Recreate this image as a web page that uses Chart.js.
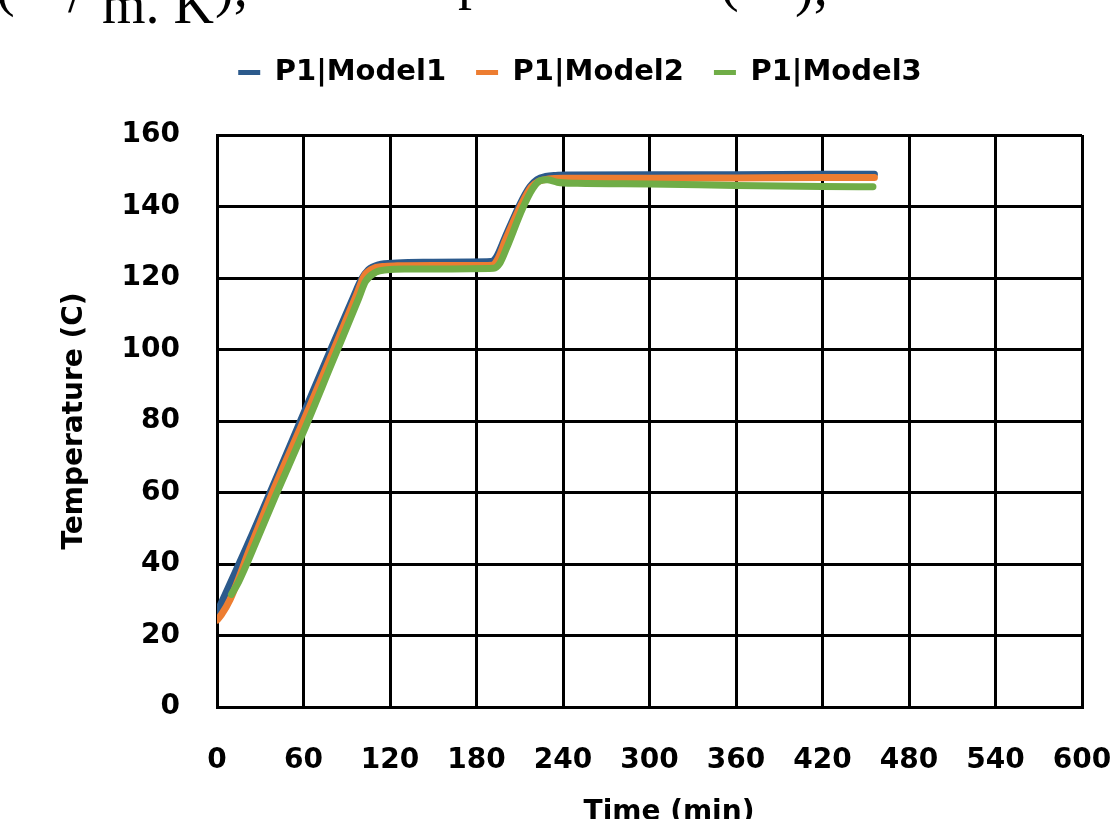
<!DOCTYPE html>
<html>
<head>
<meta charset="utf-8">
<script src="https://cdn.jsdelivr.net/npm/chart.js@4.4.1/dist/chart.umd.min.js"></script>
<style>
  html, body { margin: 0; padding: 0; background: #fff; overflow: hidden; }
  #wrap { position: relative; width: 1115px; height: 850px; }
  #c { position: absolute; left: 0; top: 0; }
  .frag { position: absolute; font-family: "Liberation Serif", "Times New Roman", serif; font-size: 56px; line-height: 56px; color: #000; white-space: pre; }
</style>
</head>
<body>
<div id="wrap">
  <canvas id="c" width="1115" height="850"></canvas>
  <span class="frag" style="left:-4px; top:-42px;">(</span>
  <span class="frag" style="left:68px; top:-35px;">/</span>
  <span class="frag" style="left:102px; top:-24px;">m. K</span>
  <span class="frag" style="left:215px; top:-41px;">),</span>
  <span class="frag" style="left:458px; top:-49px;">p</span>
  <span class="frag" style="left:720px; top:-47px;">(</span>
  <span class="frag" style="left:795px; top:-42px;">),</span>
</div>
<script>
// ---- data ----
const seriesNames = ["P1|Model1", "P1|Model2", "P1|Model3"];

const model1Time = [0, 23, 40, 60, 80, 95, 100, 105, 112, 125, 150, 175, 190, 194, 200, 210, 217, 222, 228, 235, 245, 300, 360, 420, 456];
const model1Temp = [26.4, 47, 63, 82, 101, 115, 119.5, 122.3, 123.7, 124.2, 124.4, 124.5, 124.6, 126, 131.5, 140.5, 145.5, 147.5, 148.4, 148.7, 148.8, 148.9, 148.9, 149.0, 149.0];

const model2Time = [0, 3, 9, 23, 40, 60, 80, 97, 102, 108, 115, 125, 150, 175, 191, 195, 200, 211, 218, 223, 230, 240, 300, 360, 420, 456];
const model2Temp = [24.3, 25.8, 30, 44.5, 61.5, 80, 99, 115.5, 120.5, 122.6, 123.2, 123.4, 123.5, 123.5, 123.6, 125.5, 130.5, 140.5, 145.5, 147, 147.7, 147.9, 147.9, 148.0, 148.1, 148.1];

const model3Time = [10, 15, 28, 40, 60, 80, 98, 103, 110, 118, 130, 150, 175, 192, 196, 201, 212, 219, 224, 229, 236, 250, 300, 360, 420, 455];
const model3Temp = [31.5, 35, 47, 58.5, 77, 96.5, 114, 119, 121.6, 122.3, 122.5, 122.5, 122.6, 122.7, 124, 128.5, 139.5, 145, 147.2, 147.5, 146.8, 146.5, 146.3, 145.9, 145.6, 145.5];

const xTicks = [0, 60, 120, 180, 240, 300, 360, 420, 480, 540, 600];
const yTicks = [0, 20, 40, 60, 80, 100, 120, 140, 160];

const colors = ["#2C5A8C", "#ED7D31", "#70AD47"];

function pts(t, v) { return t.map((x, i) => ({ x: x, y: v[i] })); }

const FONT = "'DejaVu Sans', 'Open Sans', sans-serif";

const datasets = [
  { label: seriesNames[0], data: pts(model1Time, model1Temp), borderColor: colors[0], backgroundColor: colors[0], order: 3 },
  { label: seriesNames[1], data: pts(model2Time, model2Temp), borderColor: colors[1], backgroundColor: colors[1], order: 2 },
  { label: seriesNames[2], data: pts(model3Time, model3Temp), borderColor: colors[2], backgroundColor: colors[2], order: 1 }
].map(d => Object.assign(d, {
  xAxisID: 'x', yAxisID: 'y',
  borderWidth: 7, pointRadius: 0, pointHoverRadius: 0, fill: false,
  cubicInterpolationMode: 'monotone', borderCapStyle: 'round', borderJoinStyle: 'round'
}));

const L = 78;
new Chart(document.getElementById('c'), {
  type: 'line',
  data: { datasets: datasets },
  options: {
    responsive: false,
    animation: false,
    devicePixelRatio: 1,
    layout: { padding: { left: L, right: 33, top: 28, bottom: 0 } },
    plugins: {
      tooltip: { enabled: false },
      legend: {
        position: 'top',
        align: 'center',
        labels: {
          sort: (a, b) => a.datasetIndex - b.datasetIndex,
          generateLabels: chart => Chart.defaults.plugins.legend.labels.generateLabels(chart)
            .map(l => Object.assign(l, { lineWidth: 0, strokeStyle: 'rgba(0,0,0,0)' })),
          boxWidth: 22, boxHeight: 5, padding: 30,
          color: '#000',
          font: { family: FONT, size: 29, weight: 'bold' }
        }
      }
    },
    scales: {
      x: {
        type: 'linear', min: 0, max: 600, position: 'bottom',
        afterBuildTicks: s => { s.ticks = xTicks.map(v => ({ value: v })); },
        afterFit: s => { s.height = 850 - 707; s.paddingLeft = 0; s.paddingRight = 0; },
        grid: { color: '#000', lineWidth: 3, drawTicks: false },
        border: { color: '#000', width: 3 },
        ticks: { color: '#000', padding: 37, maxRotation: 0, font: { family: FONT, size: 28, weight: 'bold' } },
        title: { display: true, text: '    Time (min)', color: '#000', padding: { top: 0, bottom: 20 }, font: { family: FONT, size: 28, weight: 'bold' } }
      },
      y: {
        type: 'linear', min: 0, max: 160,
        afterBuildTicks: s => { s.ticks = yTicks.map(v => ({ value: v })); },
        afterFit: s => { s.width = 217 - L; s.paddingTop = 0; s.paddingBottom = 0; },
        grid: { color: '#000', lineWidth: 3, drawTicks: false },
        border: { color: '#000', width: 3 },
        ticks: { color: '#000', padding: 37, font: { family: FONT, size: 28, weight: 'bold' } },
        title: { display: true, text: 'Temperature (C)', color: '#000', padding: { top: -20, bottom: 0 }, font: { family: FONT, size: 28, weight: 'bold' } }
      },
      spacer: {
        type: 'linear', position: 'top', display: true,
        grid: { display: false, drawTicks: false }, border: { display: false },
        ticks: { display: false },
        afterFit: s => { s.height = 38; s.paddingLeft = 0; s.paddingRight = 0; }
      }
    }
  }
});
</script>
</body>
</html>
